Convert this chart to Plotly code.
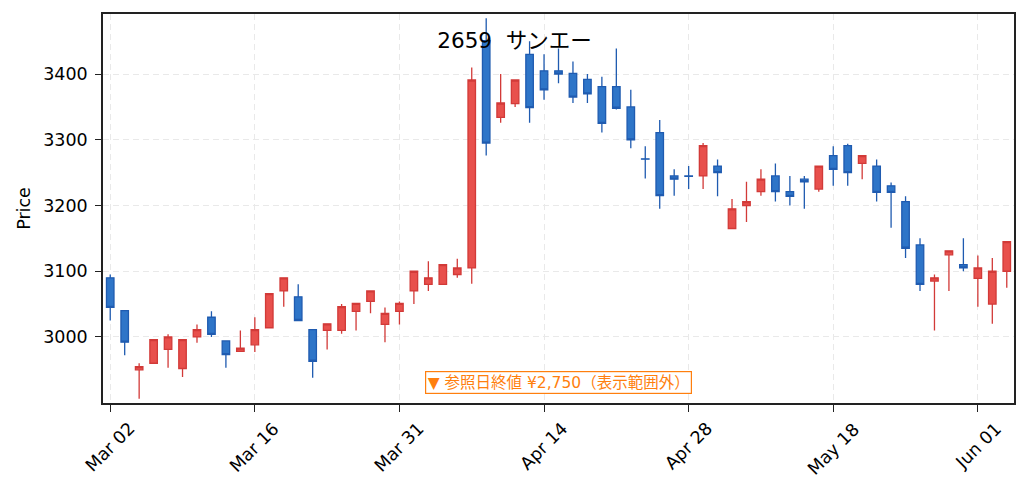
import plotly.graph_objects as go

# 2659 サンエー 日足 (2026-03-02 〜 2026-06-03)
dates = [
    "2026-03-02", "2026-03-03", "2026-03-04", "2026-03-05", "2026-03-06",
    "2026-03-09", "2026-03-10", "2026-03-11", "2026-03-12", "2026-03-13",
    "2026-03-16", "2026-03-17", "2026-03-18", "2026-03-19", "2026-03-23",
    "2026-03-24", "2026-03-25", "2026-03-26", "2026-03-27", "2026-03-30",
    "2026-03-31", "2026-04-01", "2026-04-02", "2026-04-03", "2026-04-06",
    "2026-04-07", "2026-04-08", "2026-04-09", "2026-04-10", "2026-04-13",
    "2026-04-14", "2026-04-15", "2026-04-16", "2026-04-17", "2026-04-20",
    "2026-04-21", "2026-04-22", "2026-04-23", "2026-04-24", "2026-04-27",
    "2026-04-28", "2026-04-30", "2026-05-01", "2026-05-07", "2026-05-08",
    "2026-05-11", "2026-05-12", "2026-05-13", "2026-05-14", "2026-05-15",
    "2026-05-18", "2026-05-19", "2026-05-20", "2026-05-21", "2026-05-22",
    "2026-05-25", "2026-05-26", "2026-05-27", "2026-05-28", "2026-05-29",
    "2026-06-01", "2026-06-02", "2026-06-03",
]

open_ = [
    3090, 3040, 2950, 2960, 2981, 2952, 3000, 3030, 2994, 2978,
    2988, 3014, 3070, 3061, 3011, 3010, 3010, 3039, 3054, 3019,
    3039, 3070, 3080, 3080, 3095, 3105, 3451, 3334, 3355, 3430,
    3405, 3405, 3401, 3392, 3381, 3381, 3350, 3271, 3311, 3245,
    3245, 3245, 3260, 3165, 3200, 3221, 3245, 3221, 3240, 3225,
    3276, 3291, 3264, 3260, 3230, 3206, 3140, 3085, 3125, 3110,
    3089, 3050, 3100,
]
high = [
    3095, 3040, 2960, 2997, 3004, 2997, 3019, 3039, 2994, 3010,
    3030, 3067, 3091, 3080, 3011, 3021, 3050, 3052, 3071, 3045,
    3054, 3101, 3115, 3111, 3119, 3410, 3485, 3400, 3391, 3450,
    3430, 3439, 3419, 3400, 3396, 3439, 3376, 3290, 3330, 3255,
    3260, 3295, 3270, 3210, 3236, 3255, 3264, 3245, 3245, 3261,
    3290, 3294, 3277, 3270, 3235, 3214, 3150, 3095, 3132, 3150,
    3124, 3120, 3146,
]
low = [
    3025, 2972, 2906, 2959, 2953, 2939, 2991, 3000, 2953, 2978,
    2977, 3013, 3046, 3025, 2938, 2981, 3005, 3010, 3036, 2992,
    3019, 3050, 3070, 3079, 3090, 3081, 3276, 3326, 3350, 3326,
    3361, 3386, 3356, 3356, 3311, 3346, 3287, 3241, 3195, 3215,
    3225, 3225, 3214, 3165, 3175, 3215, 3206, 3200, 3195, 3221,
    3230, 3230, 3240, 3206, 3166, 3120, 3070, 3010, 3070, 3100,
    3046, 3020, 3075,
]
close = [
    3045, 2992, 2955, 2996, 3000, 2996, 3011, 3004, 2973, 2983,
    3011, 3066, 3090, 3025, 2963, 3020, 3046, 3051, 3070, 3036,
    3051, 3100, 3090, 3110, 3105, 3391, 3295, 3356, 3391, 3349,
    3376, 3400, 3365, 3370, 3325, 3348, 3300, 3270.5, 3215, 3240,
    3244.5, 3291, 3250, 3195, 3206, 3240, 3221, 3214, 3236, 3260,
    3255, 3250, 3276, 3220, 3220, 3135, 3080, 3090, 3131, 3105,
    3105, 3100, 3145,
]

tick_dates = ["2026-03-02", "2026-03-16", "2026-03-31", "2026-04-14",
              "2026-04-28", "2026-05-18", "2026-06-01"]
tick_labels = ["Mar 02", "Mar 16", "Mar 31", "Apr 14", "Apr 28", "May 18", "Jun 01"]
y_ticks = [3000, 3100, 3200, 3300, 3400]

FONT = "DejaVu Sans, Noto Sans CJK JP, sans-serif"
GRID = "#e9e9e9"
SPINE = "#222222"

fig = go.Figure()

fig.add_trace(go.Candlestick(
    x=dates,
    open=open_, high=high, low=low, close=close,
    increasing=dict(line=dict(color="#d23a38", width=1.3), fillcolor="#e8504c"),
    decreasing=dict(line=dict(color="#1f5bb0", width=1.3), fillcolor="#2e75c8"),
    whiskerwidth=0,
    showlegend=False,
    name="2659",
))

fig.update_layout(
    width=1029, height=491,
    margin=dict(l=103, r=15, t=14, b=88),
    paper_bgcolor="white",
    plot_bgcolor="white",
    font=dict(family=FONT, size=17.5, color="black"),
    boxgap=0.26,
    title=dict(
        text="2659  サンエー",
        xref="container", x=0.5, xanchor="center",
        yref="container", y=1 - 40 / 491, yanchor="middle",
        font=dict(family=FONT, size=21.5, color="black"),
    ),
    xaxis=dict(
        type="category",
        range=[-0.5, 62.5],
        rangeslider=dict(visible=False),
        tickmode="array",
        tickvals=tick_dates,
        showticklabels=False,
        ticks="outside", ticklen=7, tickwidth=1.3, tickcolor=SPINE,
        showline=True, linecolor=SPINE, linewidth=1.5, mirror=True,
        showgrid=True, gridcolor=GRID, griddash="6px,4px", gridwidth=1,
        zeroline=False,
    ),
    yaxis=dict(
        range=[2899.5, 3491.4],
        tickmode="array",
        tickvals=y_ticks,
        ticks="outside", ticklen=6, tickwidth=1.3, tickcolor=SPINE,
        ticklabelstandoff=4,
        showline=True, linecolor=SPINE, linewidth=1.5, mirror=True,
        showgrid=True, gridcolor=GRID, griddash="6px,4px", gridwidth=1,
        zeroline=False,
        title=dict(text="Price", font=dict(size=17.5), standoff=8),
    ),
)

# 45度回転の日付ラベル（ラベルの中心を目盛りに合わせる）
for d, lab in zip(tick_dates, tick_labels):
    fig.add_annotation(
        text=lab, x=d, xref="x", y=0, yref="paper",
        xanchor="center", yanchor="top", yshift=-13,
        textangle=-45, showarrow=False,
        font=dict(family=FONT, size=17.5, color="black"),
    )

fig.add_annotation(
    text="▼ 参照日終値 ¥2,750（表示範囲外）",
    xref="paper", yref="paper",
    x=0.5, y=0.053, xanchor="center", yanchor="middle",
    showarrow=False,
    font=dict(family=FONT, size=15.5, color="#ff7f0e"),
    bgcolor="white",
    bordercolor="#ff7f0e", borderwidth=1.2, borderpad=1.5,
)

fig.write_html(
    "out.html",
    config={"displayModeBar": False},
    post_script="document.body.style.margin='0px';",
)
